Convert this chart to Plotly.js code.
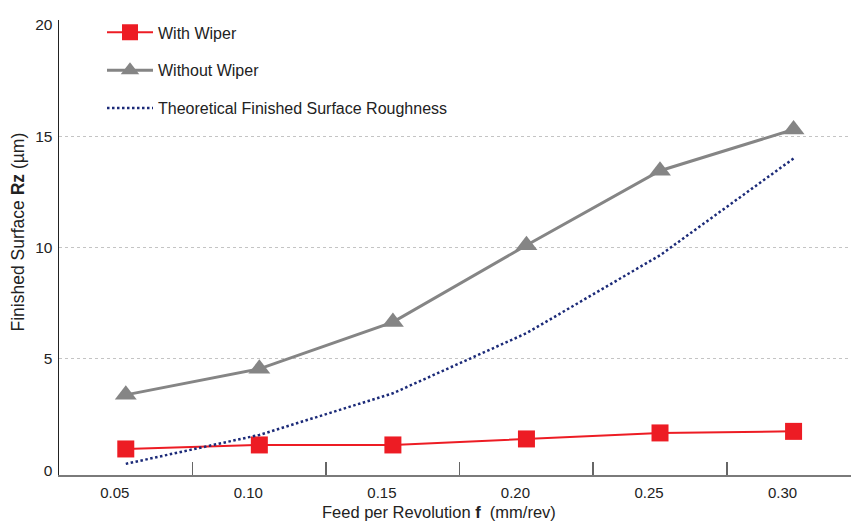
<!DOCTYPE html>
<html>
<head>
<meta charset="utf-8">
<script src="https://cdn.plot.ly/plotly-3.0.1.min.js"></script>
<style>html,body{margin:0;padding:0;background:#fff;}#chart{width:851px;height:524px;}</style>
</head>
<body>
<div id="chart"></div>
<script>
const categories = ["0.05", "0.10", "0.15", "0.20", "0.25", "0.30"];
const withWiper = [0.95, 1.13, 1.13, 1.40, 1.67, 1.74];
const withoutWiper = [3.38, 4.55, 6.65, 10.1, 13.45, 15.3];
const theoretical = [0.28, 1.58, 3.45, 6.15, 9.65, 14.0];
const yTicks = [0, 5, 10, 15, 20];
const gridTicks = [5, 10, 15];
const seriesNames = ["With Wiper", "Without Wiper", "Theoretical Finished Surface Roughness"];

const FONT = "Liberation Sans, Arial, sans-serif";

const traces = [
  {
    x: categories, y: withWiper, name: seriesNames[0], type: "scatter", mode: "lines+markers",
    line: {color: "#ED1C24", width: 2},
    marker: {symbol: "square", size: 17, color: "#ED1C24"},
    legendgroup: "a"
  },
  {
    x: categories, y: withoutWiper, name: seriesNames[1], type: "scatter", mode: "lines+markers",
    line: {color: "#858585", width: 3},
    marker: {symbol: "triangle-up", size: 19, color: "#858585"},
    legendgroup: "b"
  },
  {
    x: categories, y: theoretical, name: seriesNames[2], type: "scatter", mode: "lines",
    line: {color: "#1B2A78", width: 2.5, dash: "2.5px,2.5px"},
    legendgroup: "c"
  },
  {
    x: categories, y: theoretical, yaxis: "y2", type: "scatter", mode: "lines",
    line: {width: 0}, showlegend: false, hoverinfo: "skip", opacity: 0
  }
];

const layout = {
  width: 851, height: 524,
  margin: {l: 59, r: 0, t: 20, b: 49, pad: 0},
  paper_bgcolor: "#fff", plot_bgcolor: "#fff",
  font: {family: FONT, color: "#222"},
  showlegend: true,
  legend: {
    x: 0.0543, y: 1.01, xanchor: "left", yanchor: "top",
    font: {family: FONT, size: 16, color: "#222"},
    bgcolor: "rgba(0,0,0,0)", borderwidth: 0,
    traceorder: "grouped", tracegroupgap: 14, itemwidth: 46
  },
  xaxis: {
    type: "category", categoryorder: "array", categoryarray: categories,
    range: [-0.5, 5.43], tickson: "boundaries",
    ticks: "inside", ticklen: 13, tickwidth: 1.5, tickcolor: "#666",
    showline: true, linecolor: "#7a7a7a", linewidth: 2,
    showgrid: false, zeroline: false,
    tickfont: {family: FONT, size: 15, color: "#222"},
    ticklabelshift: -11, ticklabelstandoff: 3,
    fixedrange: true
  },
  yaxis: {
    range: [-0.22, 20.22], tickvals: yTicks, ticktext: yTicks.map(String),
    showline: true, linecolor: "#222", linewidth: 1.5,
    showgrid: false, zeroline: false, ticks: "",
    tickfont: {family: FONT, size: 15.5, color: "#222"},
    ticklabelstandoff: 2, fixedrange: true
  },
  yaxis2: {
    overlaying: "y", range: [-0.22, 20.22], tickvals: gridTicks,
    showgrid: true, gridcolor: "#c4c4c4", gridwidth: 1, griddash: "dot",
    showticklabels: false, showline: false, zeroline: false, ticks: "", fixedrange: true
  },
  annotations: [
    {
      text: "Feed per Revolution <b>f</b>&nbsp; (mm/rev)", xref: "paper", yref: "paper",
      x: (439 - 59) / 792, y: -(512 - 475) / 455, xanchor: "center", yanchor: "middle",
      showarrow: false, font: {family: FONT, size: 16.5, color: "#222"}
    },
    {
      text: "Finished Surface <b>Rz</b> (µm)", xref: "paper", yref: "paper",
      x: -(59 - 17.5) / 792, y: (475 - 232) / 455, xanchor: "center", yanchor: "middle",
      textangle: -90, showarrow: false, font: {family: FONT, size: 17.5, color: "#222"}
    }
  ]
};

Plotly.newPlot("chart", traces, layout, {displayModeBar: false, staticPlot: true});
</script>
</body>
</html>
